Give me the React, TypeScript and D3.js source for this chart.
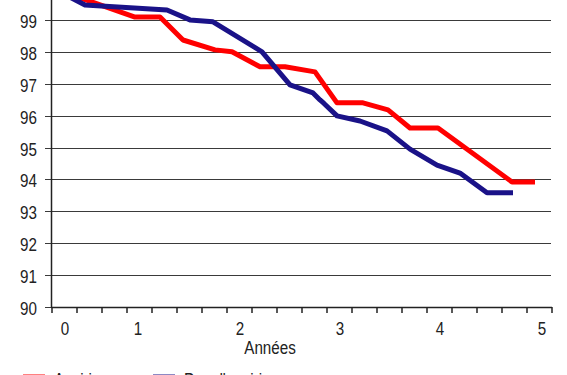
import React from "react";
import * as d3 from "d3";

// Data (years, survival %)
const aspirineYears = [0, 0.83, 1.08, 1.31, 1.63, 1.8, 2.08, 2.33, 2.63, 2.85, 3.11, 3.36, 3.58, 3.86, 4.6, 4.83];
const aspirineValues = [100, 99.09, 99.09, 98.37, 98.06, 98.0, 97.53, 97.53, 97.37, 96.4, 96.4, 96.18, 95.61, 95.61, 93.92, 93.92];

const sansYears = [0, 0.33, 1.15, 1.38, 1.61, 2.1, 2.38, 2.61, 2.68, 2.72, 2.85, 3.08, 3.35, 3.58, 3.85, 4.08, 4.35, 4.61];
const sansValues = [100, 99.47, 99.31, 99.0, 98.94, 98.0, 96.96, 96.71, 96.49, 96.38, 95.99, 95.83, 95.52, 94.95, 94.45, 94.2, 93.58, 93.58];

const yTicks = [90, 91, 92, 93, 94, 95, 96, 97, 98, 99];
const xTickLabels = ["0", "1", "2", "3", "4", "5"];
const xTickLabelPos = [0.13, 0.86, 1.88, 2.88, 3.88, 4.9];
const seriesNames = ["Aspirine", "Pas d'aspirine"];
const seriesColors = ["#ff0000", "#1a1288"];

const W = 567;
const H = 375;
const left = 51;
const right = 552;
const bottom = 307;
const top = -12;
const SX = 0.8;

function NText({ x, y, anchor, children }: { x: number; y: number; anchor?: string; children: React.ReactNode }) {
  return (
    <text transform={`translate(${x},${y}) scale(${SX},1)`} textAnchor={anchor || "start"} fontSize={19} fill="#222">
      {children}
    </text>
  );
}

export default function App() {
  const x = d3.scaleLinear().domain([0, 5]).range([52, right]);
  const y = d3.scaleLinear().domain([90, 100]).range([bottom, top]);
  const line = d3
    .line<[number, number]>()
    .x((d) => x(d[0]))
    .y((d) => y(d[1]));
  const redPts = aspirineYears.map((t, i) => [t, aspirineValues[i]] as [number, number]);
  const bluePts = sansYears.map((t, i) => [t, sansValues[i]] as [number, number]);
  const minorTicks = d3.range(0, 5.001, 0.25);
  const font = "'Liberation Sans', Arial, sans-serif";

  return (
    <svg
      width={W}
      height={H}
      style={{ position: "fixed", left: 0, top: 0, background: "#ffffff" }}
      fontFamily={font}
    >
      {/* gridlines */}
      {yTicks.map((v) => (
        <g key={v}>
          <line x1={left - 6} x2={right - 1} y1={Math.round(y(v)) + 0.5} y2={Math.round(y(v)) + 0.5} stroke="#3a3a3a" strokeWidth={1.2} />
          <NText x={37} y={y(v) + 8} anchor="end">
            {v}
          </NText>
        </g>
      ))}
      {/* axes */}
      <line x1={left + 0.5} x2={left + 0.5} y1={top} y2={bottom + 0.5} stroke="#222" strokeWidth={1.5} />
      <line x1={left} x2={right} y1={bottom + 0.5} y2={bottom + 0.5} stroke="#222" strokeWidth={1.5} />
      {minorTicks.map((t) => (
        <line key={t} x1={x(t)} x2={x(t)} y1={bottom} y2={bottom + 6} stroke="#222" strokeWidth={1.5} />
      ))}
      {xTickLabels.map((lab, i) => (
        <NText key={lab} x={x(xTickLabelPos[i])} y={335} anchor="middle">
          {lab}
        </NText>
      ))}
      <NText x={270} y={354} anchor="middle">
        Années
      </NText>
      {/* series */}
      <path d={line(redPts) || ""} fill="none" stroke={seriesColors[0]} strokeWidth={5} strokeLinejoin="round" />
      <path d={line(bluePts) || ""} fill="none" stroke={seriesColors[1]} strokeWidth={5} strokeLinejoin="round" />
      {/* legend (clipped at bottom) */}
      {seriesNames.map((name, i) => {
        const sx = i === 0 ? 23 : 153;
        return (
          <g key={name}>
            <line x1={sx} x2={sx + 22} y1={377} y2={377} stroke={seriesColors[i]} strokeWidth={5} />
            <NText x={sx + 31} y={386}>
              {name}
            </NText>
          </g>
        );
      })}
    </svg>
  );
}
